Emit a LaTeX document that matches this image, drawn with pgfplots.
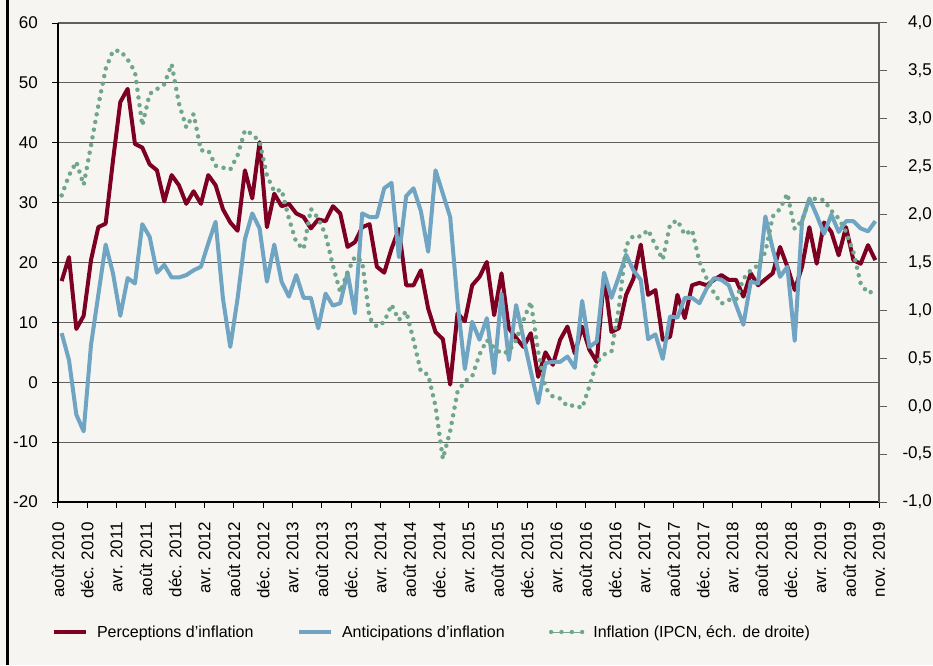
\documentclass[border=0pt]{standalone}
\usepackage{fontspec}
\setmainfont{Liberation Sans}
\usepackage{pgfplots}
\usepackage{pgfplotstable}
\pgfplotsset{compat=1.18}
\definecolor{bg}{RGB}{246,245,241}
\definecolor{perc}{RGB}{125,0,35}
\definecolor{anti}{RGB}{111,165,194}
\definecolor{infl}{RGB}{112,166,140}
\definecolor{gridc}{RGB}{95,95,95}

\pgfplotstableread{
i perc anti infl
0 16.9 8.2 2.20
1 20.9 3.7 2.41
2 8.9 -5.4 2.55
3 11.1 -8.2 2.31
4 20.4 6.2 2.72
5 25.9 14.6 3.14
6 26.5 23.0 3.52
7 37.0 18.2 3.71
8 46.8 11.1 3.71
9 49.0 17.4 3.62
10 39.8 16.5 3.49
11 39.2 26.4 2.93
12 36.4 24.3 3.26
13 35.4 18.3 3.31
14 30.2 19.6 3.36
15 34.6 17.5 3.57
16 32.9 17.5 3.16
17 29.8 17.9 2.91
18 31.9 18.7 3.05
19 29.8 19.3 2.67
20 34.6 23.2 2.67
21 32.9 26.8 2.51
22 28.9 14.0 2.49
23 26.7 5.9 2.47
24 25.3 14.0 2.62
25 35.4 23.9 2.88
26 30.7 28.2 2.84
27 40.1 25.7 2.76
28 25.9 16.8 2.41
29 31.5 23.0 2.24
30 29.4 16.8 2.26
31 29.8 14.3 1.96
32 28.2 17.9 1.71
33 27.6 14.1 1.64
34 25.7 14.1 2.06
35 27.2 9.0 1.96
36 26.9 14.8 1.79
37 29.4 12.8 1.47
38 28.2 13.2 1.19
39 22.6 18.3 1.40
40 23.4 11.5 1.56
41 25.9 28.2 1.51
42 26.4 27.6 0.92
43 19.3 27.6 0.83
44 18.3 32.4 0.88
45 22.3 33.3 1.06
46 25.6 20.9 0.90
47 16.2 31.1 0.99
48 16.2 32.4 0.69
49 18.7 28.6 0.36
50 12.3 21.8 0.33
51 8.4 35.4 0.00
52 7.2 31.5 -0.55
53 -0.4 27.6 -0.26
54 11.5 13.4 0.15
55 10.2 2.2 0.26
56 16.2 10.1 0.31
57 17.6 7.1 0.54
58 20.1 10.7 0.69
59 11.2 1.5 0.61
60 18.2 14.8 0.55
61 9.0 3.7 0.57
62 7.4 12.9 0.69
63 5.9 7.3 0.90
64 8.2 1.8 1.09
65 0.9 -3.5 0.57
66 5.0 3.2 0.19
67 2.9 3.4 0.10
68 7.1 3.4 0.08
69 9.3 4.3 0.00
70 4.8 2.4 0.01
71 9.3 13.6 -0.02
72 5.4 5.9 0.21
73 3.4 6.8 0.46
74 17.9 18.3 0.54
75 8.4 14.1 0.57
76 9.0 17.6 1.02
77 14.6 21.3 1.68
78 17.3 18.7 1.78
79 23.0 17.1 1.77
80 14.6 7.2 1.84
81 15.4 8.0 1.68
82 7.1 3.9 1.53
83 7.6 11.0 1.90
84 14.6 10.8 1.94
85 10.7 14.1 1.79
86 16.2 14.1 1.84
87 16.6 13.2 1.51
88 16.2 15.7 1.33
89 17.1 17.4 1.18
90 17.9 17.1 1.07
91 17.1 16.2 1.11
92 17.1 12.9 1.11
93 14.3 9.6 1.33
94 18.2 16.8 1.42
95 16.2 16.5 1.47
96 17.2 27.7 1.61
97 18.2 22.3 1.98
98 22.6 17.6 2.06
99 19.3 19.3 2.22
100 15.4 6.9 1.85
101 19.3 26.9 1.94
102 25.9 30.7 2.15
103 19.8 27.9 2.17
104 26.7 24.8 2.15
105 25.1 28.0 2.04
106 21.2 25.1 1.96
107 25.9 26.9 1.82
108 20.4 26.9 1.61
109 19.8 25.7 1.28
110 22.9 25.2 1.18
111 20.4 26.9 1.21
}\data

\begin{document}
\begin{tikzpicture}
\path[use as bounding box, fill=bg] (0pt,0pt) rectangle (933pt,665pt);
\draw[black, line width=3pt] (7.5pt,0pt) -- (7.5pt,665pt);
\begin{axis}[
  at={(58pt,163pt)}, anchor=south west,
  scale only axis, width=821pt, height=479pt,
  xmin=-0.5, xmax=111.5, ymin=-20, ymax=60,
  axis x line*=bottom, axis y line*=left,
  axis line style={black, line width=1.2pt, -},
  xtick={-0.5,3.5,7.5,11.5,15.5,19.5,23.5,27.5,31.5,35.5,39.5,43.5,47.5,51.5,55.5,59.5,63.5,67.5,71.5,75.5,79.5,83.5,87.5,91.5,95.5,99.5,103.5,107.5,111.5},
  xticklabels={août 2010,déc. 2010,avr. 2011,août 2011,déc. 2011,avr. 2012,août 2012,déc. 2012,avr. 2013,août 2013,déc. 2013,avr. 2014,août 2014,déc. 2014,avr. 2015,août 2015,déc. 2015,avr. 2016,août 2016,déc. 2016,avr. 2017,août 2017,déc. 2017,avr. 2018,août 2018,déc. 2018,avr. 2019,août 2019,nov. 2019},
  xticklabel style={rotate=90, anchor=east, inner sep=0pt, font=\fontsize{17}{17}\selectfont},
  xticklabel shift=14pt,
  ytick={-20,-10,0,10,20,30,40,50,60},
  yticklabels={-20,-10,0,10,20,30,40,50,60},
  yticklabel style={anchor=east, inner sep=0pt, xshift=-14pt, font=\fontsize{17}{17}\selectfont},
  ymajorgrids, major grid style={gridc, line width=1.2pt},
  tick align=outside, major tick length=6pt,
  tick style={black, line width=1pt},
  legend columns=3,
  legend cell align=left,
  legend image code/.code={\draw[#1] (0pt,0pt) -- (32pt,0pt);},
  legend style={at={(-0.0073,-0.2714)}, anchor=west, draw=none, fill=none,
    inner sep=0pt, outer sep=0pt, nodes={inner sep=0pt},
    font=\fontsize{16}{16}\selectfont,
    /tikz/every odd column/.append style={column sep=9pt},
    /tikz/every even column/.append style={column sep=0pt}},
]
\addplot[perc, line width=4pt, line join=round] table[x=i, y=perc] {\data};
\addlegendentry{\makebox[200pt][l]{Perceptions d'inflation}}
\addplot[anti, line width=4pt, line join=round] table[x=i, y=anti] {\data};
\addlegendentry{\makebox[207pt][l]{Anticipations d'inflation}}
\addlegendimage{infl,
  legend image code/.code={\draw[infl, line width=4.3pt, line cap=round, dash pattern=on 0pt off 10.33pt] (1pt,0pt) -- (32pt,0pt); \path (0pt,0pt) -- (32pt,0pt);}}
\addlegendentry{Inflation (IPCN, éch. de droite)}
\end{axis}
\begin{axis}[
  at={(58pt,163pt)}, anchor=south west,
  scale only axis, width=821pt, height=479pt,
  xmin=-0.5, xmax=111.5, ymin=-1, ymax=4,
  axis x line=none, axis y line*=right,
  axis line style={gridc, line width=1.2pt, -},
  ytick={-1,-0.5,0,0.5,1,1.5,2,2.5,3,3.5,4},
  yticklabels={{-1,0},{-0,5},{0,0},{0,5},{1,0},{1,5},{2,0},{2,5},{3,0},{3,5},{4,0}},
  yticklabel style={anchor=east, inner sep=0pt, xshift=45pt, font=\fontsize{17}{17}\selectfont},
  tick align=outside, major tick length=8pt,
  tick style={gridc, line width=1pt},
]
\addplot[infl, line width=4.5pt, line cap=round, dash pattern=on 0pt off 7.8pt] table[x=i, y=infl] {\data};
\end{axis}
\end{tikzpicture}
\end{document}
